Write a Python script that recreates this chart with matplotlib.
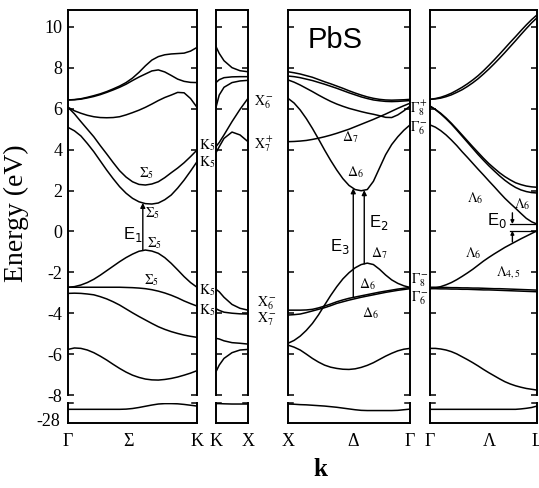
import numpy as np
import matplotlib
matplotlib.use("Agg")
import matplotlib.pyplot as plt

plt.rcParams['font.family'] = ['Liberation Serif', 'DejaVu Serif']
plt.rcParams['mathtext.fontset'] = 'stix'
plt.rcParams['axes.unicode_minus'] = False

# ---------------- data (energies in eV, k normalised along each segment) -------------
k_sigma = [0.0, 0.05, 0.1, 0.15, 0.2, 0.25, 0.3, 0.35, 0.4, 0.45, 0.5,
           0.55, 0.6, 0.65, 0.7, 0.75, 0.8, 0.85, 0.9, 0.95, 1.0]
sigma_c4 = [6.43, 6.45, 6.49, 6.56, 6.64, 6.73, 6.84, 6.97, 7.11, 7.28, 7.5,
            7.78, 8.1, 8.38, 8.55, 8.64, 8.68, 8.7, 8.72, 8.82, 9.0]
sigma_c3 = [6.43, 6.44, 6.47, 6.53, 6.6, 6.69, 6.8, 6.92, 7.05, 7.2, 7.38,
            7.55, 7.7, 7.85, 7.9, 7.8, 7.63, 7.45, 7.34, 7.29, 7.28]
sigma_c2 = [6.07, 5.9, 5.78, 5.68, 5.61, 5.57, 5.56, 5.57, 5.61, 5.7, 5.81,
            5.93, 6.07, 6.23, 6.4, 6.55, 6.67, 6.8, 6.78, 6.5, 6.07]
sigma_c1 = [6.07, 5.75, 5.37, 5.0, 4.63, 4.2, 3.79, 3.37, 2.97, 2.66, 2.43,
            2.3, 2.27, 2.32, 2.43, 2.63, 2.87, 3.1, 3.36, 3.66, 3.98]
sigma_c0 = [5.09, 4.92, 4.67, 4.3, 3.9, 3.45, 3.0, 2.58, 2.19, 1.87, 1.62,
            1.45, 1.36, 1.34, 1.39, 1.55, 1.78, 2.12, 2.51, 2.95, 3.41]
sigma_v1 = [-2.73, -2.7, -2.62, -2.5, -2.34, -2.14, -1.92, -1.7, -1.48, -1.28, -1.11,
            -0.97, -0.91, -0.96, -1.07, -1.28, -1.56, -1.88, -2.21, -2.5, -2.73]
sigma_v2 = [-2.73, -2.73, -2.73, -2.73, -2.73, -2.73, -2.73, -2.73, -2.73, -2.74, -2.75,
            -2.77, -2.8, -2.85, -2.92, -3.01, -3.12, -3.25, -3.4, -3.53, -3.65]
sigma_v3 = [-3.03, -3.02, -3.03, -3.06, -3.1, -3.19, -3.3, -3.44, -3.6, -3.79, -3.98,
            -4.16, -4.33, -4.5, -4.66, -4.79, -4.9, -4.99, -5.07, -5.13, -5.18]
sigma_v4 = [-5.77, -5.7, -5.72, -5.8, -5.93, -6.1, -6.29, -6.5, -6.7, -6.88, -7.03,
            -7.14, -7.22, -7.26, -7.27, -7.24, -7.19, -7.12, -7.03, -6.93, -6.81]
sigma_deep = [-27.48, -27.48, -27.48, -27.48, -27.48, -27.48, -27.48, -27.48, -27.48, -27.47, -27.44,
              -27.39, -27.33, -27.27, -27.22, -27.2, -27.2, -27.21, -27.24, -27.28, -27.32]

k_kx = [0.0, 0.1, 0.25, 0.5, 0.75, 1.0]
kx_c4 = [9.04, 8.71, 8.35, 8.01, 7.86, 7.81]
kx_c3 = [7.28, 7.42, 7.52, 7.56, 7.57, 7.57]
kx_c2 = [6.07, 6.67, 7.05, 7.28, 7.36, 7.39]
kx_c1 = [4.15, 4.35, 4.72, 5.37, 5.97, 6.51]
kx_c0 = [3.85, 4.14, 4.55, 4.86, 4.72, 4.39]
kx_v1 = [-2.83, -2.95, -3.22, -3.57, -3.76, -3.85]
kx_v2 = [-3.78, -3.86, -3.95, -4.0, -4.03, -4.04]
kx_v3 = [-5.23, -5.26, -5.35, -5.44, -5.47, -5.51]
kx_v4 = [-6.86, -6.54, -6.21, -5.93, -5.8, -5.77]
kx_deep = [-27.2, -27.2, -27.21, -27.22, -27.22, -27.22]

k_delta = [0.0, 0.05, 0.1, 0.15, 0.2, 0.25, 0.3, 0.35, 0.4, 0.45, 0.5,
           0.55, 0.6, 0.65, 0.7, 0.75, 0.8, 0.85, 0.9, 0.95, 1.0]
delta_c4 = [7.81, 7.76, 7.7, 7.62, 7.54, 7.43, 7.32, 7.22, 7.11, 7.0, 6.88,
            6.77, 6.67, 6.58, 6.51, 6.46, 6.43, 6.42, 6.43, 6.44, 6.46]
delta_c3 = [7.6, 7.57, 7.52, 7.45, 7.38, 7.29, 7.2, 7.1, 7.0, 6.89, 6.78,
            6.68, 6.58, 6.5, 6.43, 6.39, 6.36, 6.35, 6.36, 6.38, 6.4]
delta_c2 = [7.41, 7.3, 7.16, 7.0, 6.84, 6.67, 6.51, 6.36, 6.23, 6.12, 6.02,
            5.94, 5.86, 5.79, 5.73, 5.66, 5.58, 5.57, 5.7, 5.9, 6.13]
delta_c1 = [6.51, 6.28, 5.94, 5.52, 5.04, 4.52, 3.98, 3.47, 3.0, 2.58, 2.25,
            2.05, 1.99, 2.05, 2.45, 3.1, 3.75, 4.25, 4.63, 4.95, 5.21]
delta_c0 = [4.39, 4.4, 4.42, 4.45, 4.5, 4.56, 4.63, 4.71, 4.8, 4.9, 5.0,
            5.12, 5.24, 5.36, 5.48, 5.61, 5.74, 5.88, 6.02, 6.15, 6.27]
delta_v1 = [-3.85, -3.85, -3.85, -3.84, -3.81, -3.74, -3.65, -3.55, -3.44, -3.35, -3.27,
            -3.21, -3.15, -3.09, -3.03, -2.97, -2.92, -2.87, -2.82, -2.78, -2.74]
delta_v2 = [-4.09, -4.07, -4.04, -3.97, -3.89, -3.81, -3.73, -3.63, -3.52, -3.44, -3.36,
            -3.29, -3.22, -3.16, -3.1, -3.04, -2.98, -2.93, -2.88, -2.84, -2.8]
delta_v3 = [-5.47, -5.33, -5.12, -4.84, -4.5, -4.08, -3.6, -3.13, -2.7, -2.32, -2.02,
            -1.78, -1.62, -1.55, -1.62, -1.85, -2.13, -2.37, -2.54, -2.66, -2.74]
delta_v4 = [-5.56, -5.66, -5.8, -6.0, -6.21, -6.39, -6.54, -6.64, -6.7, -6.74, -6.75,
            -6.72, -6.65, -6.55, -6.42, -6.26, -6.1, -5.96, -5.84, -5.76, -5.72]
delta_deep = [-27.22, -27.23, -27.25, -27.26, -27.28, -27.3, -27.32, -27.35, -27.38, -27.42, -27.46,
              -27.5, -27.53, -27.54, -27.54, -27.54, -27.54, -27.54, -27.53, -27.5, -27.47]

k_lambda = [0.0, 0.05, 0.1, 0.15, 0.2, 0.25, 0.3, 0.35, 0.4, 0.45, 0.5,
            0.55, 0.6, 0.65, 0.7, 0.75, 0.8, 0.85, 0.9, 0.95, 1.0]
lambda_c4 = [6.46, 6.5, 6.56, 6.65, 6.76, 6.9, 7.05, 7.22, 7.41, 7.62, 7.86,
             8.12, 8.39, 8.67, 8.96, 9.25, 9.53, 9.82, 10.1, 10.36, 10.59]
lambda_c3 = [6.46, 6.48, 6.52, 6.59, 6.68, 6.8, 6.93, 7.09, 7.27, 7.47, 7.7,
             7.94, 8.2, 8.47, 8.75, 9.04, 9.33, 9.63, 9.92, 10.2, 10.45]
lambda_c2 = [6.13, 5.97, 5.78, 5.55, 5.29, 5.01, 4.72, 4.43, 4.14, 3.86, 3.58,
             3.32, 3.09, 2.87, 2.68, 2.52, 2.38, 2.29, 2.22, 2.18, 2.16]
lambda_c1 = [6.13, 5.96, 5.75, 5.51, 5.25, 4.96, 4.66, 4.36, 4.06, 3.76, 3.48,
             3.21, 2.96, 2.72, 2.5, 2.31, 2.15, 2.03, 1.95, 1.9, 1.88]
lambda_c0 = [5.21, 5.1, 4.93, 4.72, 4.47, 4.2, 3.9, 3.62, 3.33, 3.04, 2.76,
             2.47, 2.19, 1.9, 1.62, 1.37, 1.13, 0.88, 0.64, 0.47, 0.36]
lambda_v1 = [-2.79, -2.76, -2.7, -2.61, -2.5, -2.36, -2.2, -2.03, -1.85, -1.65, -1.45,
             -1.27, -1.1, -0.94, -0.78, -0.64, -0.5, -0.36, -0.23, -0.1, 0.03]
lambda_v2 = [-2.73, -2.73, -2.74, -2.74, -2.75, -2.75, -2.76, -2.76, -2.77, -2.77, -2.78,
             -2.79, -2.8, -2.8, -2.81, -2.82, -2.83, -2.84, -2.85, -2.86, -2.87]
lambda_v3 = [-2.8, -2.8, -2.81, -2.81, -2.82, -2.82, -2.83, -2.83, -2.84, -2.85, -2.86,
             -2.86, -2.87, -2.88, -2.89, -2.9, -2.91, -2.92, -2.93, -2.94, -2.95]
lambda_v4 = [-5.72, -5.72, -5.75, -5.8, -5.88, -5.99, -6.13, -6.27, -6.42, -6.58, -6.75,
             -6.91, -7.06, -7.21, -7.35, -7.46, -7.55, -7.62, -7.68, -7.72, -7.76]
lambda_deep = [-27.48, -27.48, -27.48, -27.48, -27.48, -27.48, -27.48, -27.48, -27.48, -27.48, -27.48,
               -27.48, -27.48, -27.48, -27.48, -27.48, -27.48, -27.46, -27.43, -27.39, -27.32]

energy_ticks = [-8, -6, -4, -2, 0, 2, 4, 6, 8, 10]
deep_ticks = [-28]
panel_ticks = [[0.0, 0.47, 1.0], [0.0, 1.0], [0.0, 0.53, 1.0], [0.0, 0.55, 1.0]]
panel_ticklabels = [['Γ', 'Σ', 'K'], ['K', 'X'], ['X', 'Δ', 'Γ'], ['Γ', 'Λ', 'L']]

panels = [
    (k_sigma, [sigma_c4, sigma_c3, sigma_c2, sigma_c1, sigma_c0, sigma_v1, sigma_v2, sigma_v3, sigma_v4], sigma_deep),
    (k_kx, [kx_c4, kx_c3, kx_c2, kx_c1, kx_c0, kx_v1, kx_v2, kx_v3, kx_v4], kx_deep),
    (k_delta, [delta_c4, delta_c3, delta_c2, delta_c1, delta_c0, delta_v1, delta_v2, delta_v3, delta_v4], delta_deep),
    (k_lambda, [lambda_c4, lambda_c3, lambda_c2, lambda_c1, lambda_c0, lambda_v1, lambda_v2, lambda_v3, lambda_v4], lambda_deep),
]

# ---------------- layout ----------------
W, H = 539, 488
fig = plt.figure(figsize=(W / 100, H / 100), dpi=100)
panel_px = [(68, 197), (216, 248), (288, 410), (430, 537)]
up_top, up_bot = 10, 395
lo_top, lo_bot = 403, 423
LW = 1.1
SPW = 1.4

uppers, lowers = [], []
for i, ((x0, x1), (kk, bands, deep)) in enumerate(zip(panel_px, panels)):
    au = fig.add_axes([x0 / W, 1 - up_bot / H, (x1 - x0) / W, (up_bot - up_top) / H])
    al = fig.add_axes([x0 / W, 1 - lo_bot / H, (x1 - x0) / W, (lo_bot - lo_top) / H])
    for b in bands:
        au.plot(kk, b, color='black', lw=LW, solid_capstyle='round', solid_joinstyle='round')
    al.plot(kk, deep, color='black', lw=LW, solid_joinstyle='round')
    au.set_xlim(0, 1)
    al.set_xlim(0, 1)
    au.set_ylim(-8, 10.83)
    al.set_ylim(-28.15, -27.17)
    au.set_yticks(energy_ticks)
    au.set_xticks([])
    au.spines['bottom'].set_visible(False)
    al.spines['top'].set_visible(False)
    for sp in au.spines.values():
        sp.set_linewidth(SPW)
    for sp in al.spines.values():
        sp.set_linewidth(SPW)
    au.tick_params(axis='y', direction='in', length=4.5, width=1.1, left=True, right=True,
                   labelleft=(i == 0), labelsize=13, pad=4)
    al.set_xticks(panel_ticks[i])
    al.set_xticklabels(panel_ticklabels[i])
    al.tick_params(axis='x', length=0, labelsize=13, pad=7)
    if i == 0:
        al.set_yticks(deep_ticks)
        al.tick_params(axis='y', length=0, labelsize=13, pad=6)
    else:
        al.set_yticks([])
    # break hooks on top of the lower boxes
    hook = 5.0 / (x1 - x0)
    al.plot([0, hook], [1, 1], transform=al.transAxes, color='black', lw=1.1, clip_on=False)
    al.plot([1 - hook, 1], [1, 1], transform=al.transAxes, color='black', lw=1.1, clip_on=False)
    uppers.append(au)
    lowers.append(al)

# ---------------- transitions ----------------
arrow_kw = dict(arrowstyle='-|>', color='black', lw=1.0, mutation_scale=7, shrinkA=0, shrinkB=0)
k_e1 = 0.58
uppers[0].annotate('', xy=(k_e1, np.interp(k_e1, k_sigma, sigma_c0)),
                   xytext=(k_e1, np.interp(k_e1, k_sigma, sigma_v1)), arrowprops=arrow_kw)
k_e3 = 0.535
uppers[2].annotate('', xy=(k_e3, np.interp(k_e3, k_delta, delta_c1)),
                   xytext=(k_e3, np.interp(k_e3, k_delta, delta_v1)), arrowprops=arrow_kw)
k_e2 = 0.625
uppers[2].annotate('', xy=(k_e2, np.interp(k_e2, k_delta, delta_c1)),
                   xytext=(k_e2, np.interp(k_e2, k_delta, delta_v3)), arrowprops=arrow_kw)
# E0 at L
ax4 = uppers[3]
lc, lv = lambda_c0[-1], lambda_v1[-1]
ax4.plot([0.75, 1.0], [lc, lc], color='black', lw=0.9)
ax4.plot([0.75, 1.0], [lv, lv], color='black', lw=0.9)
ax4.annotate('', xy=(0.77, lc), xytext=(0.77, lc + 0.55), arrowprops=dict(arrow_kw, mutation_scale=5))
ax4.annotate('', xy=(0.77, lv), xytext=(0.77, lv - 0.55), arrowprops=dict(arrow_kw, mutation_scale=5))


# ---------------- labels ----------------
def ftext(px, py, s, size=10, **kw):
    fig.text(px / W, 1 - py / H, s, ha=kw.pop('ha', 'center'), va='center', fontsize=size, **kw)


sans = dict(family=['Liberation Sans', 'DejaVu Sans'], math_fontfamily='dejavusans')
for (px, py) in [(147, 173), (153, 213), (155, 243), (152, 280)]:
    ftext(px, py, r'$\Sigma_5$', 10)
ftext(133, 235, r'E$_1$', 12, **sans)
for (px, py) in [(207, 145), (207, 162), (207, 290), (207, 310)]:
    ftext(px, py, r'$\mathrm{K}_5$', 10)
ftext(264, 102, r'$\mathrm{X}_6^-$', 10)
ftext(264, 144, r'$\mathrm{X}_7^+$', 10)
ftext(267, 303, r'$\mathrm{X}_6^-$', 10)
ftext(267, 319, r'$\mathrm{X}_7^-$', 10)
ftext(335, 40, 'PbS', 21, **sans)
ftext(350, 137, r'$\Delta_7$', 10)
ftext(355, 172, r'$\Delta_6$', 10)
ftext(379, 222, r'E$_2$', 12, **sans)
ftext(340, 247, r'E$_3$', 12, **sans)
ftext(379, 253, r'$\Delta_7$', 10)
ftext(367, 284, r'$\Delta_6$', 10)
ftext(370, 313, r'$\Delta_6$', 10)
ftext(419, 108, r'$\Gamma_8^+$', 10)
ftext(419, 128, r'$\Gamma_6^-$', 10)
ftext(420, 280, r'$\Gamma_8^-$', 10)
ftext(420, 298, r'$\Gamma_6^-$', 10)
ftext(475, 198, r'$\Lambda_6$', 10)
ftext(522, 204, r'$\Lambda_6$', 10)
ftext(497, 221, r'E$_0$', 12, **sans)
ftext(473, 253, r'$\Lambda_6$', 10)
ftext(508, 273, r'$\Lambda_{4,5}$', 10)
ftext(537.5, 193, r'$\mathrm{L}_6^-$', 10, ha='left')
ftext(537.5, 232, r'$\mathrm{L}_6^+$', 10, ha='left')

ftext(16, 213, 'Energy (eV)', 20, rotation=90)
ftext(320, 469, 'k', 18, fontweight='bold')

fig.savefig('out.png', dpi=100)
